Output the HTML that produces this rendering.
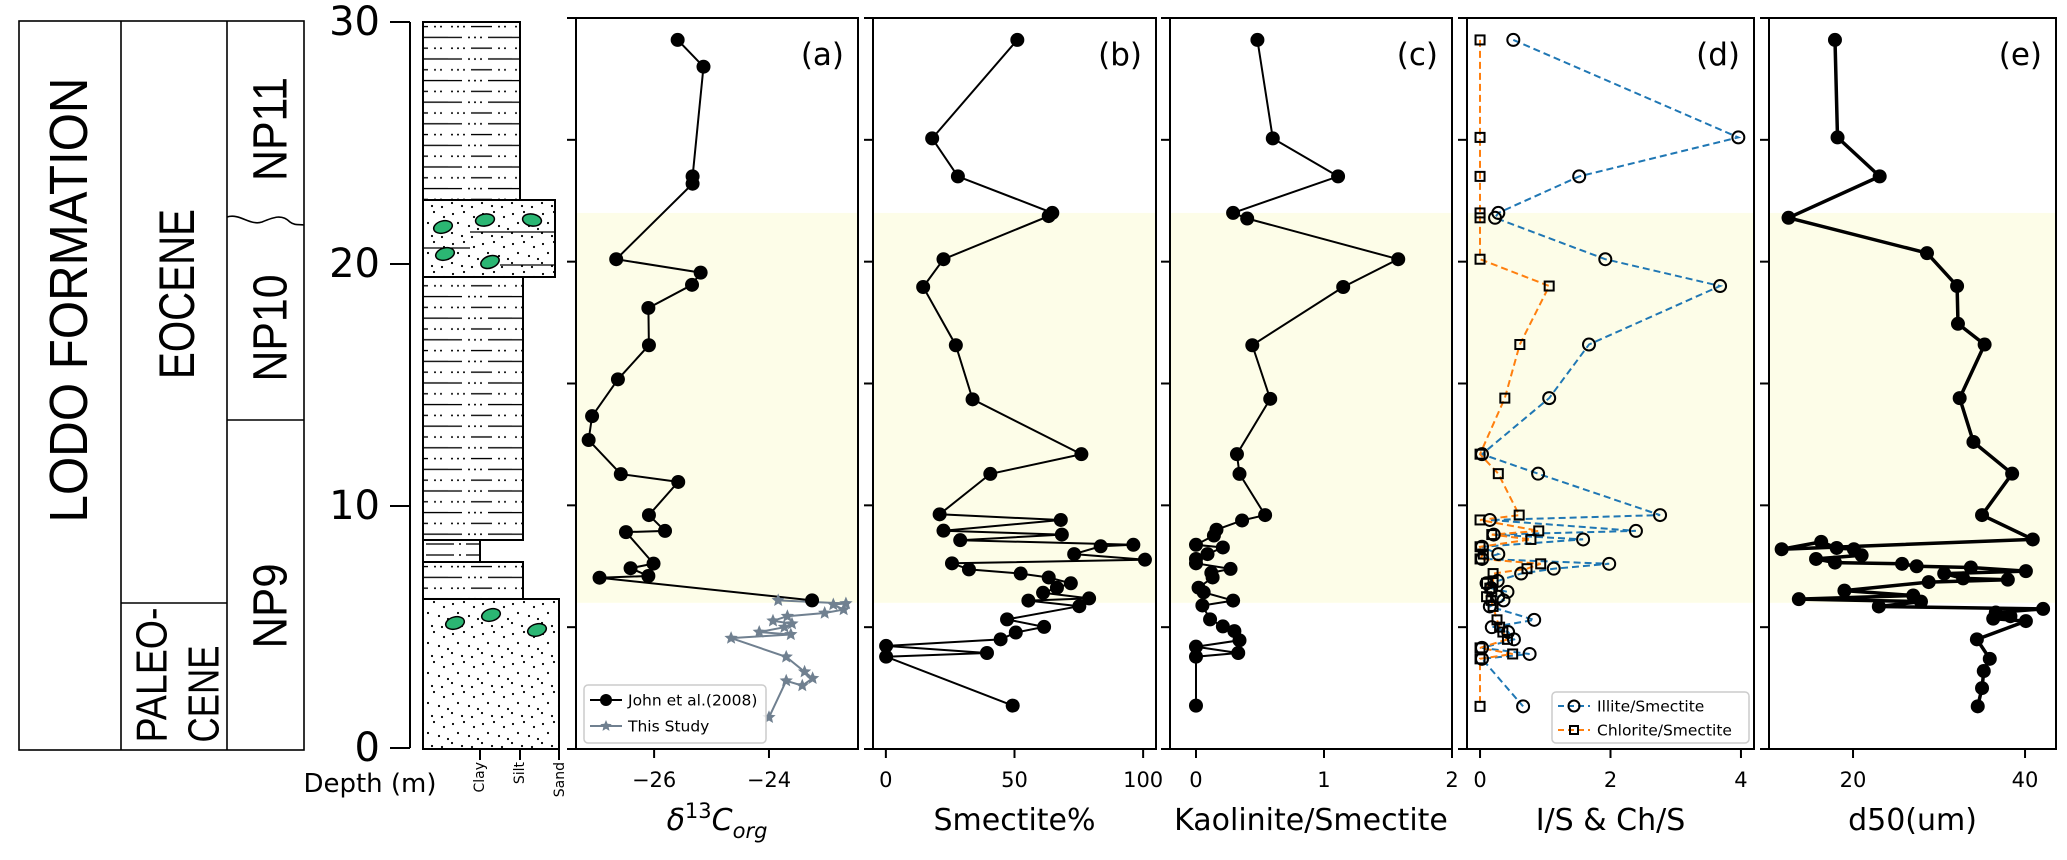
<!DOCTYPE html>
<html><head><meta charset="utf-8"><style>
html,body{margin:0;padding:0;background:#fff;}
svg{display:block;}
text{font-family:"DejaVu Sans","Liberation Sans",sans-serif;fill:#000;}
.strat{font-family:"Liberation Sans",sans-serif;}
</style></head><body>
<svg id="fig" width="2067" height="860" viewBox="0 0 2067 860" xmlns="http://www.w3.org/2000/svg">
<defs>
<pattern id="shale" width="64" height="21.6" patternUnits="userSpaceOnUse">
<g fill="#000" stroke="#000" stroke-width="1.3">
<circle cx="4" cy="5" r="1" stroke="none"/><circle cx="10" cy="5" r="1" stroke="none"/><circle cx="16" cy="5" r="1" stroke="none"/>
<line x1="23" y1="5" x2="44" y2="5"/>
<circle cx="51" cy="5" r="1" stroke="none"/><circle cx="57" cy="5" r="1" stroke="none"/>
<line x1="-2" y1="15.8" x2="14" y2="15.8"/>
<circle cx="21" cy="15.8" r="1" stroke="none"/><circle cx="27" cy="15.8" r="1" stroke="none"/><circle cx="33" cy="15.8" r="1" stroke="none"/>
<line x1="40" y1="15.8" x2="66" y2="15.8"/>
</g></pattern>
<pattern id="clay" width="40" height="11" patternUnits="userSpaceOnUse">
<g fill="#000" stroke="#000" stroke-width="1.3">
<line x1="0" y1="5" x2="14" y2="5"/><circle cx="20" cy="5" r="1" stroke="none"/><line x1="26" y1="5" x2="40" y2="5"/>
</g></pattern>
<pattern id="sand" width="30" height="30" patternUnits="userSpaceOnUse">
<g fill="#000">
<circle cx="3" cy="4" r="1.1"/><circle cx="14" cy="2" r="1.1"/><circle cx="24" cy="7" r="1.1"/>
<circle cx="8" cy="13" r="1.1"/><circle cx="19" cy="16" r="1.1"/><circle cx="28" cy="19" r="1.1"/>
<circle cx="2" cy="23" r="1.1"/><circle cx="12" cy="26" r="1.1"/><circle cx="22" cy="27" r="1.1"/>
</g></pattern>
</defs>

<g stroke="#000" stroke-width="1.6" fill="none">
<rect x="19" y="21" width="285" height="729"/>
<line x1="121" y1="21" x2="121" y2="750"/>
<line x1="227" y1="21" x2="227" y2="750"/>
<line x1="121" y1="603" x2="227" y2="603"/>
<line x1="227" y1="420" x2="304" y2="420"/>
<path d="M227 217 C240 213,250 226,262 222 C274 217,282 214,290 222 C295 226,300 224,304 225"/>
</g>
<g class="strat">
<text class="strat" transform="translate(69,300) rotate(-90)" text-anchor="middle" dominant-baseline="central" textLength="445" lengthAdjust="spacingAndGlyphs" font-size="54">LODO  FORMATION</text>
<text class="strat" transform="translate(177,294) rotate(-90)" text-anchor="middle" dominant-baseline="central" textLength="170" lengthAdjust="spacingAndGlyphs" font-size="50">EOCENE</text>
<text class="strat" transform="translate(152,675) rotate(-90)" text-anchor="middle" dominant-baseline="central" textLength="135" lengthAdjust="spacingAndGlyphs" font-size="44">PALEO-</text>
<text class="strat" transform="translate(204,694) rotate(-90)" text-anchor="middle" dominant-baseline="central" textLength="97" lengthAdjust="spacingAndGlyphs" font-size="44">CENE</text>
<text class="strat" transform="translate(271,129) rotate(-90)" text-anchor="middle" dominant-baseline="central" textLength="104" lengthAdjust="spacingAndGlyphs" font-size="48">NP11</text>
<text class="strat" transform="translate(271,328) rotate(-90)" text-anchor="middle" dominant-baseline="central" textLength="107" lengthAdjust="spacingAndGlyphs" font-size="48">NP10</text>
<text class="strat" transform="translate(271,606) rotate(-90)" text-anchor="middle" dominant-baseline="central" textLength="85" lengthAdjust="spacingAndGlyphs" font-size="48">NP9</text>
</g>

<g id="depthAxis"></g>

<g stroke="#000" stroke-width="2">
<rect x="423" y="22" width="97" height="178" fill="url(#shale)"/>
<rect x="423" y="200" width="132" height="77" fill="url(#sand)"/>
<rect x="423" y="277" width="100" height="263" fill="url(#shale)"/>
<rect x="423" y="540" width="57" height="22" fill="url(#clay)"/>
<rect x="423" y="562" width="100" height="37" fill="url(#shale)"/>
<rect x="423" y="599" width="136" height="150" fill="url(#sand)"/>
<g stroke-width="1.2"><line x1="470" y1="232" x2="555" y2="232"/><line x1="423" y1="248" x2="470" y2="248"/><line x1="500" y1="265" x2="555" y2="265"/></g>
<g fill="#2bb673" stroke="#000" stroke-width="1.5">
<ellipse cx="443" cy="227" rx="9.5" ry="6" transform="rotate(-15 443 227)"/>
<ellipse cx="485" cy="220" rx="9.5" ry="6" transform="rotate(-10 485 220)"/>
<ellipse cx="532" cy="220" rx="9.5" ry="6" transform="rotate(10 532 220)"/>
<ellipse cx="445" cy="254" rx="9.5" ry="6" transform="rotate(-15 445 254)"/>
<ellipse cx="490" cy="262" rx="9.5" ry="6" transform="rotate(-20 490 262)"/>
<ellipse cx="455" cy="623" rx="9.5" ry="6" transform="rotate(-15 455 623)"/>
<ellipse cx="491" cy="615" rx="9.5" ry="6" transform="rotate(-15 491 615)"/>
<ellipse cx="537" cy="630" rx="9.5" ry="6" transform="rotate(-15 537 630)"/>
</g>
<g stroke-width="2"><line x1="480" y1="749" x2="480" y2="760"/><line x1="520" y1="749" x2="520" y2="760"/><line x1="559" y1="749" x2="559" y2="760"/></g>
</g>
<g font-size="14" stroke="none">
<text transform="translate(484,762) rotate(-90)" text-anchor="end">Clay</text>
<text transform="translate(524,762) rotate(-90)" text-anchor="end">Silt</text>
<text transform="translate(564,762) rotate(-90)" text-anchor="end">Sand</text>
</g>

<g id="panels"></g>
</svg>

<script>
const bandTop = 22.0;
const bandBottom = 6.0;

const depthA = [29.1,28.0,23.5,23.2,20.1,19.55,19.05,18.1,16.57,15.17,13.66,12.68,11.28,10.96,9.6,8.95,8.9,7.61,7.42,7.1,7.03,6.1];
const d13cA  = [-25.59,-25.14,-25.33,-25.33,-26.66,-25.19,-25.34,-26.1,-26.09,-26.63,-27.08,-27.14,-26.58,-25.58,-26.09,-25.81,-26.49,-26.01,-26.41,-26.1,-26.95,-23.25];
const depthStudy = [6.1,5.97,5.93,5.72,5.58,5.45,5.26,5.14,5.0,4.8,4.7,4.55,3.78,3.17,2.9,2.6,2.8,1.3];
const d13cStudy  = [-23.84,-22.66,-22.88,-22.7,-23.03,-23.68,-23.93,-23.6,-23.73,-24.17,-23.62,-24.66,-23.7,-23.38,-23.24,-23.42,-23.7,-24.0];

const depthB = [29.1,25.06,23.5,22.0,21.87,20.1,18.96,16.57,14.35,12.1,11.29,9.63,9.4,8.96,8.8,8.57,8.38,8.32,8.0,7.77,7.62,7.37,7.2,7.04,6.8,6.62,6.41,6.18,6.09,5.86,5.32,5.01,4.78,4.5,4.23,3.94,3.79,1.78];
const smectB = [51.1,18.0,28.0,64.7,63.3,22.4,14.5,27.2,33.7,76.0,40.6,20.9,68.0,22.4,68.4,28.9,96.2,83.5,73.2,100.7,25.7,32.3,52.4,63.3,71.9,66.5,61.1,79.0,55.4,75.2,47.1,61.5,50.5,44.6,0.1,39.3,0.1,49.3];

const depthC = [29.1,25.06,23.5,22.0,21.77,20.1,18.96,16.57,14.37,12.1,11.29,9.6,9.38,9.0,8.76,8.38,8.27,8.0,7.8,7.62,7.39,7.23,7.04,6.62,6.43,6.09,5.89,5.32,5.03,4.84,4.46,4.2,3.94,3.79,1.78];
const kaoC   = [0.48,0.6,1.11,0.29,0.4,1.58,1.15,0.44,0.58,0.32,0.34,0.54,0.36,0.16,0.14,0.0,0.21,0.09,0.0,0.0,0.27,0.12,0.13,0.02,0.06,0.29,0.05,0.11,0.21,0.3,0.34,0.0,0.33,0.0,0.0];

const depthD = [29.1,25.1,23.5,22.0,21.8,20.1,19.0,16.6,14.4,12.1,11.3,9.6,9.4,8.95,8.8,8.6,8.3,8.0,7.8,7.6,7.4,7.2,6.9,6.8,6.6,6.45,6.25,6.1,5.85,5.3,5.0,4.8,4.5,4.15,3.9,3.7,1.75];
const illiteD = [0.51,3.96,1.52,0.28,0.23,1.92,3.68,1.67,1.06,0.03,0.89,2.76,0.15,2.39,0.21,1.58,0.03,0.28,0.03,1.98,1.13,0.63,0.27,0.1,0.17,0.42,0.28,0.36,0.15,0.83,0.18,0.43,0.52,0.03,0.76,0.03,0.66];
const chloriteD = [0,0,0,0,0,0,1.06,0.61,0.38,0,0.28,0.6,0,0.9,0.18,0.78,0,0.05,0,0.93,0.72,0.2,0.2,0.1,0.15,0.18,0.1,0.17,0.2,0.26,0.3,0.35,0.42,0,0.5,0,0];

const depthE = [29.1,25.1,23.5,21.8,20.35,19.0,17.45,16.6,14.4,12.6,11.3,9.6,8.6,8.2,8.5,8.25,8.2,7.95,7.8,7.65,7.6,7.5,7.45,7.3,7.2,7.0,6.95,6.85,6.5,6.3,6.15,6.05,5.85,5.75,5.6,5.45,5.35,5.25,4.5,3.7,3.2,2.5,1.75];
const d50E   = [17.9,18.2,23.1,12.5,28.6,32.1,32.2,35.3,32.4,34.0,38.5,35.0,40.9,11.7,16.3,18.1,20.1,21.0,15.7,17.9,25.7,27.4,33.7,40.1,30.6,32.8,38.0,28.8,19.0,27.0,13.7,27.9,23.0,42.1,36.6,38.3,36.3,40.1,34.4,35.9,35.2,35.0,34.5];

const tickA = [-26,-24];
const tickB = [0,50,100];
const tickC = [0,1,2];
const tickD = [0,2,4];
const tickE = [20,40];
const depthTicks = [0,5,10,15,20,25,30];
const mainDepthTicks = [0,10,20,30];

const NS = "http://www.w3.org/2000/svg";
function mk(tag, attrs, parent){
  const e = document.createElementNS(NS, tag);
  for (const k in attrs) e.setAttribute(k, attrs[k]);
  (parent || document.getElementById('panels')).appendChild(e);
  return e;
}
const Y0 = 749, Y1 = 18;
function yD(d){ return Y0 - d * (Y0 - Y1) / 30; }
function xScale(p){ return v => p.left + (v - p.xmin) * (p.right - p.left) / (p.xmax - p.xmin); }
function fmt(v){ return v < 0 ? '\u2212' + Math.abs(v) : String(v); }

const da = document.getElementById('depthAxis');
const spine = mk('line', {x1:410, y1:22, x2:410, y2:748, stroke:'#000', 'stroke-width':2}, da);


mainDepthTicks.forEach(d => {
  const y = 748 - d * 24.2;
  const t = mk('line', {x1:390, y1:y, x2:410, y2:y, stroke:'#000', 'stroke-width':2}, da);
  
  
  const l = mk('text', {x:380, y:y, 'text-anchor':'end', 'dominant-baseline':'central', 'font-size':40, 'font-family':'Liberation Sans, sans-serif'}, da);
  l.textContent = String(d);
  
  
});
const dl = mk('text', {x:370, y:792, 'text-anchor':'middle', 'font-size':26, 'font-family':'Liberation Sans, sans-serif'}, da);
dl.textContent = 'Depth (m)';



const panels = [
  {id:'a', left:576, right:858, xmin:-27.36, xmax:-22.45, ticks:tickA},
  {id:'b', left:873, right:1156, xmin:-5, xmax:105, ticks:tickB},
  {id:'c', left:1170, right:1452, xmin:-0.203, xmax:2.0, ticks:tickC},
  {id:'d', left:1467, right:1754, xmin:-0.2, xmax:4.2, ticks:tickD},
  {id:'e', left:1769, right:2056, xmin:10.23, xmax:43.6, ticks:tickE}
];

function star(cx, cy, r){
  let pts = [];
  for (let i = 0; i < 10; i++){
    const a = -Math.PI/2 + i * Math.PI/5;
    const rr = i % 2 ? r * 0.45 : r;
    pts.push((cx + rr*Math.cos(a)).toFixed(1) + ',' + (cy + rr*Math.sin(a)).toFixed(1));
  }
  return pts.join(' ');
}

function drawLine(g, xs, ds, sx, opts){
  const pts = xs.map((v,i) => sx(v).toFixed(1) + ',' + yD(ds[i]).toFixed(1)).join(' ');
  return mk('polyline', Object.assign({points:pts, fill:'none'}, opts), g);
}

panels.forEach(p => {
  const g = mk('g', {});
  
  
  const sx = xScale(p);
  const band = mk('rect', {x:p.left, y:yD(bandTop), width:p.right-p.left, height:yD(bandBottom)-yD(bandTop), fill:'#fdfde8'}, g);
  
  
  const fr = mk('rect', {x:p.left, y:Y1, width:p.right-p.left, height:Y0-Y1, fill:'none', stroke:'#000', 'stroke-width':2}, g);
  
  
  depthTicks.forEach(d => {
    const t = mk('line', {x1:p.left-9, y1:yD(d), x2:p.left, y2:yD(d), stroke:'#000', 'stroke-width':2}, g);
    
    
  });
  p.ticks.forEach(v => {
    const x = sx(v);
    const t = mk('line', {x1:x, y1:Y0, x2:x, y2:Y0+9, stroke:'#000', 'stroke-width':2}, g);
    
    
    const l = mk('text', {x:x, y:787, 'text-anchor':'middle', 'font-size':21}, g);
    l.textContent = fmt(v);
    
    
  });
  const pl = mk('text', {x:p.right-14, y:65, 'text-anchor':'end', 'font-size':31}, g);
  pl.textContent = '(' + p.id + ')';
  
  
  p.g = g; p.sx = sx;
});

const titles = [['b','Smectite%'],['c','Kaolinite/Smectite'],['d','I/S & Ch/S'],['e','d50(um)']];
titles.forEach(([id, txt]) => {
  const p = panels.find(q => q.id === id);
  const t = mk('text', {x:(p.left+p.right)/2, y:830, 'text-anchor':'middle', 'font-size':30}, p.g);
  t.textContent = txt;
  
  
});
{
  const p = panels[0];
  const t = mk('text', {x:717, y:830, 'text-anchor':'middle', 'font-size':30, 'font-style':'italic'}, p.g);
  t.innerHTML = '\u03b4<tspan dy="-12" font-size="21" font-style="normal">13</tspan><tspan dy="12">C</tspan><tspan dy="8" font-size="21">org</tspan>';
  
  
}

{
  const p = panels[0], g = p.g, sx = p.sx;
  const s2 = drawLine(g, d13cStudy, depthStudy, sx, {stroke:'#708090', 'stroke-width':2});
  
  
  const s1 = drawLine(g, d13cA, depthA, sx, {stroke:'#000', 'stroke-width':2});
  
  
  d13cA.forEach((v,i) => {
    const c = mk('circle', {cx:sx(v), cy:yD(depthA[i]), r:7, fill:'#000'}, g);
    
    
  });
  d13cStudy.forEach((v,i) => {
    const s = mk('polygon', {points:star(sx(v), yD(depthStudy[i]), 7), fill:'#708090'}, g);
    
    
  });
  const lg = mk('g', {}, g);
  
  
  mk('rect', {x:584, y:685, width:182, height:58, rx:4, fill:'#fff', 'fill-opacity':0.85, stroke:'#ccc', 'stroke-width':1.5}, lg);
  mk('line', {x1:590, y1:700, x2:622, y2:700, stroke:'#000', 'stroke-width':2}, lg);
  mk('circle', {cx:606, cy:700, r:6, fill:'#000'}, lg);
  const t1 = mk('text', {x:628, y:705.5, 'font-size':15.5}, lg);
  t1.textContent = 'John et al.(2008)';
  
  
  mk('line', {x1:590, y1:726, x2:622, y2:726, stroke:'#708090', 'stroke-width':2}, lg);
  mk('polygon', {points:star(606, 726, 6), fill:'#708090'}, lg);
  const t2 = mk('text', {x:628, y:731.5, 'font-size':15.5}, lg);
  t2.textContent = 'This Study';
  
  
}

[[1, smectB, depthB, 'smectite'], [2, kaoC, depthC, 'kaolinite-smectite']].forEach(([idx, vals, ds, nm]) => {
  const p = panels[idx], g = p.g, sx = p.sx;
  const l = drawLine(g, vals, ds, sx, {stroke:'#000', 'stroke-width':2});
  
  
  vals.forEach((v,i) => {
    const c = mk('circle', {cx:sx(v), cy:yD(ds[i]), r:7, fill:'#000'}, g);
    
    
  });
});

{
  const p = panels[3], g = p.g, sx = p.sx;
  const li = drawLine(g, illiteD, depthD, sx, {stroke:'#1f77b4', 'stroke-width':2, 'stroke-dasharray':'7,4'});
  
  
  const lc = drawLine(g, chloriteD, depthD, sx, {stroke:'#ff7f0e', 'stroke-width':2, 'stroke-dasharray':'7,4'});
  
  
  illiteD.forEach((v,i) => {
    const c = mk('circle', {cx:sx(v), cy:yD(depthD[i]), r:6, fill:'none', stroke:'#000', 'stroke-width':2}, g);
    
    
  });
  chloriteD.forEach((v,i) => {
    const s = mk('rect', {x:sx(v)-4.5, y:yD(depthD[i])-4.5, width:9, height:9, fill:'none', stroke:'#000', 'stroke-width':2}, g);
    
    
  });
  const lg = mk('g', {}, g);
  
  
  mk('rect', {x:1552, y:692, width:197, height:51, rx:4, fill:'#fff', 'fill-opacity':0.85, stroke:'#ccc', 'stroke-width':1.5}, lg);
  mk('line', {x1:1558, y1:706, x2:1590, y2:706, stroke:'#1f77b4', 'stroke-width':2, 'stroke-dasharray':'6,4'}, lg);
  mk('circle', {cx:1574, cy:706, r:5.5, fill:'none', stroke:'#000', 'stroke-width':2}, lg);
  const t1 = mk('text', {x:1597, y:711.5, 'font-size':15.5}, lg);
  t1.textContent = 'Illite/Smectite';
  
  
  mk('line', {x1:1558, y1:730, x2:1590, y2:730, stroke:'#ff7f0e', 'stroke-width':2, 'stroke-dasharray':'6,4'}, lg);
  mk('rect', {x:1570, y:726, width:8, height:8, fill:'none', stroke:'#000', 'stroke-width':2}, lg);
  const t2 = mk('text', {x:1597, y:735.5, 'font-size':15.5}, lg);
  t2.textContent = 'Chlorite/Smectite';
  
  
}

{
  const p = panels[4], g = p.g, sx = p.sx;
  const l = drawLine(g, d50E, depthE, sx, {stroke:'#000', 'stroke-width':3.5, 'stroke-linejoin':'round'});
  
  
  d50E.forEach((v,i) => {
    const c = mk('circle', {cx:sx(v), cy:yD(depthE[i]), r:7, fill:'#000'}, g);
    
    
  });
}
</script>
</body></html>
